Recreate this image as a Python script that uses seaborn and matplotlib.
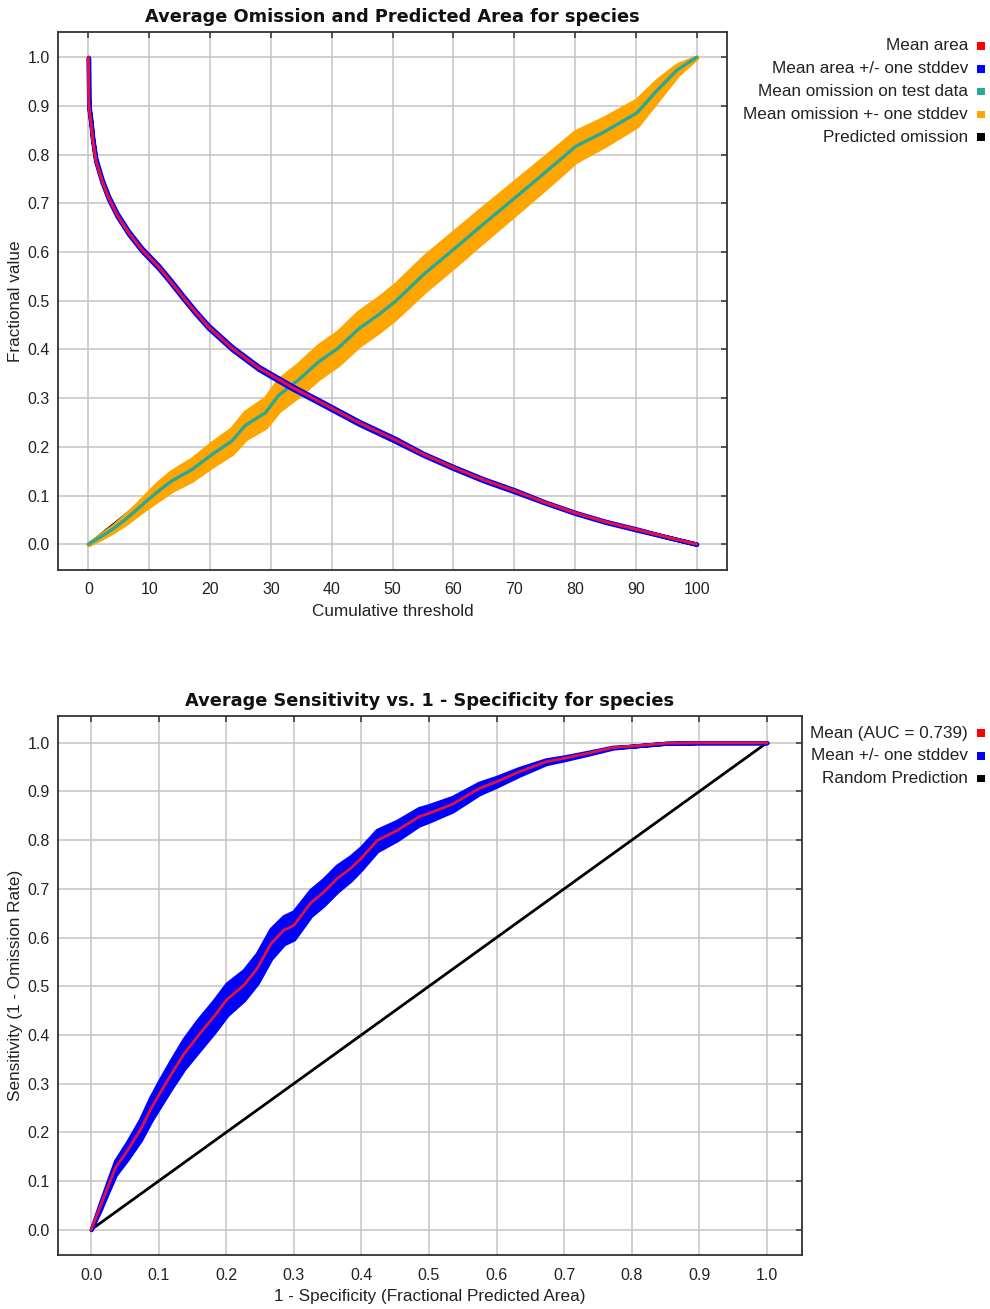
import matplotlib
matplotlib.use("Agg")
import matplotlib.pyplot as plt
import seaborn as sns
import numpy as np
import pandas as pd
from matplotlib.patches import Rectangle

# ---------------- data ----------------
# Top panel: omission and predicted area vs cumulative threshold
area_threshold = [0, 0.05, 0.15, 0.4, 0.7, 1.2, 2.2, 3.3, 4.7, 6.6, 8.8, 11.5, 13.5, 15.4,
                  17.5, 19.7, 23.6, 28.0, 33.4, 39.0, 44.4, 50.5, 55.0, 60.1, 65.0, 70.2,
                  75.0, 80.1, 85.0, 90.2, 95.0, 100]
mean_area = [1.0, 0.91, 0.892, 0.868, 0.832, 0.79, 0.748, 0.712, 0.677, 0.640, 0.605, 0.570,
             0.540, 0.510, 0.478, 0.447, 0.403, 0.362, 0.323, 0.286, 0.250, 0.214, 0.185,
             0.157, 0.132, 0.109, 0.086, 0.064, 0.046, 0.030, 0.015, 0.0]
area_std = [0.0, 0.003, 0.003, 0.003, 0.003, 0.003, 0.003, 0.003, 0.003, 0.003, 0.003, 0.003,
            0.003, 0.003, 0.003, 0.003, 0.003, 0.003, 0.003, 0.003, 0.003, 0.003, 0.002,
            0.002, 0.002, 0.002, 0.001, 0.001, 0.001, 0.001, 0.0, 0.0]

omission_threshold = [0, 2, 4, 6, 7.7, 9.5, 11.5, 13.7, 17.0, 20.3, 23.6, 25.8, 29.1, 31.3,
                      34.6, 37.8, 41.1, 44.4, 47.8, 50.5, 55.2, 60.1, 65.0, 70.2, 74.3, 77.6,
                      80.1, 84.7, 90.2, 93.5, 96.8, 100]
mean_omission = [0, 0.015, 0.031, 0.050, 0.068, 0.088, 0.109, 0.130, 0.153, 0.184, 0.212,
                 0.244, 0.270, 0.306, 0.338, 0.374, 0.403, 0.442, 0.472, 0.499, 0.555, 0.606,
                 0.658, 0.712, 0.755, 0.790, 0.817, 0.846, 0.886, 0.932, 0.974, 1.0]
omission_std = [0, 0.003, 0.005, 0.008, 0.010, 0.013, 0.017, 0.019, 0.021, 0.023, 0.025,
                0.027, 0.029, 0.031, 0.032, 0.033, 0.033, 0.034, 0.034, 0.034, 0.035, 0.035,
                0.034, 0.033, 0.032, 0.031, 0.030, 0.028, 0.026, 0.020, 0.010, 0.0]

predicted_threshold = [0, 100]
predicted_omission = [0.0, 1.0]

# Bottom panel: ROC
fpr = [0, 0.014, 0.024, 0.036, 0.054, 0.073, 0.088, 0.1, 0.118, 0.137, 0.157, 0.182, 0.201,
       0.226, 0.246, 0.266, 0.285, 0.3, 0.325, 0.344, 0.364, 0.384, 0.4, 0.423, 0.453, 0.485,
       0.5, 0.535, 0.574, 0.6, 0.633, 0.673, 0.7, 0.737, 0.772, 0.8, 0.851, 0.9, 1.0]
tpr = [0, 0.049, 0.085, 0.127, 0.163, 0.205, 0.247, 0.276, 0.318, 0.360, 0.396, 0.438, 0.473,
       0.502, 0.537, 0.587, 0.615, 0.625, 0.671, 0.693, 0.721, 0.742, 0.763, 0.799, 0.820, 0.848,
       0.855, 0.874, 0.906, 0.920, 0.940, 0.961, 0.968, 0.979, 0.990, 0.993, 0.999, 1.0, 1.0]
tpr_std = [0, 0.007, 0.010, 0.014, 0.017, 0.021, 0.024, 0.026, 0.028, 0.030, 0.032, 0.032, 0.032,
           0.030, 0.030, 0.030, 0.028, 0.028, 0.026, 0.026, 0.026, 0.024, 0.022, 0.021, 0.019, 0.017,
           0.016, 0.014, 0.011, 0.009, 0.007, 0.004, 0.003, 0.002, 0.001, 0.0, 0.0, 0.0, 0.0]
random_x = [0.0, 1.0]
random_y = [0.0, 1.0]

top_xticks = list(range(0, 101, 10))
frac_ticks = [round(0.1 * i, 1) for i in range(11)]

legend_top = ["Mean area", "Mean area +/- one stddev", "Mean omission on test data",
              "Mean omission +- one stddev", "Predicted omission"]
legend_bottom = ["Mean (AUC = 0.739)", "Mean +/- one stddev", "Random Prediction"]

# ---------------- style ----------------
RED = "#ff0000"
LINE_RED = "#e3123f"
BLUE = "#0000ff"
TEAL = "#2aa896"
ORANGE = "#ffa500"
BLACK = "#000000"
GRID = "#c4c4c4"
SPINE = "#333333"

sns.set_theme(style="white")
plt.rcParams["font.family"] = ["Liberation Sans", "DejaVu Sans"]

fig = plt.figure(figsize=(9.9, 13.09), dpi=100)
W, H = 990.0, 1309.0
ax1 = fig.add_axes([58 / W, 1 - 570 / H, 669 / W, 538 / H])
ax2 = fig.add_axes([58 / W, 1 - 1255 / H, 744 / W, 539 / H])


def style_axes(ax, xticks, xfmt):
    ax.set_facecolor("white")
    ax.set_xticks(xticks)
    ax.set_yticks(frac_ticks)
    ax.set_xticklabels([xfmt(v) for v in xticks])
    ax.set_yticklabels([f"{v:.1f}" for v in frac_ticks])
    ax.grid(True, color=GRID, linewidth=1.1)
    ax.set_axisbelow(True)
    for s in ax.spines.values():
        s.set_visible(True)
        s.set_color(SPINE)
        s.set_linewidth(1.3)
    ax.tick_params(axis="both", direction="in", length=4, width=1.1, color=SPINE,
                   top=True, right=True, labelsize=11.5, labelcolor="#222222")
    ax.tick_params(axis="x", pad=9)
    ax.tick_params(axis="y", pad=6)


# ---------- top panel ----------
d_pred = pd.DataFrame({"x": predicted_threshold, "y": predicted_omission})
sns.lineplot(data=d_pred, x="x", y="y", ax=ax1, color=BLACK, linewidth=1.6, zorder=2)

om_x = np.array(omission_threshold)
om_y = np.array(mean_omission)
om_s = np.array(omission_std)
ax1.fill_between(om_x, om_y - om_s, om_y + om_s, color=ORANGE, edgecolor=ORANGE,
                 linewidth=3.5, zorder=3)
d_om = pd.DataFrame({"x": omission_threshold, "y": mean_omission})
sns.lineplot(data=d_om, x="x", y="y", ax=ax1, color=TEAL, linewidth=2.4, zorder=4)

ar_x = np.array(area_threshold)
ar_y = np.array(mean_area)
ar_s = np.array(area_std)
ax1.fill_between(ar_x, ar_y - ar_s, ar_y + ar_s, color=BLUE, edgecolor=BLUE,
                 linewidth=3.2, zorder=5)
d_ar = pd.DataFrame({"x": area_threshold, "y": mean_area})
sns.lineplot(data=d_ar, x="x", y="y", ax=ax1, color=LINE_RED, linewidth=2.2, zorder=6)

ax1.set_xlim(-5, 105)
ax1.set_ylim(-0.053, 1.052)
style_axes(ax1, top_xticks, lambda v: f"{v:d}")
ax1.set_xlabel("Cumulative threshold", fontsize=12.3, labelpad=5, color="#222222")
ax1.set_ylabel("Fractional value", fontsize=12.3, labelpad=3, color="#222222")
ax1.set_title("Average Omission and Predicted Area for species", fontsize=12.8,
              fontweight="bold", family="DejaVu Sans", pad=7, color="#111111")

# ---------- bottom panel ----------
d_rand = pd.DataFrame({"x": random_x, "y": random_y})
sns.lineplot(data=d_rand, x="x", y="y", ax=ax2, color=BLACK, linewidth=2.0, zorder=2)

r_x = np.array(fpr)
r_y = np.array(tpr)
r_s = np.array(tpr_std)
ax2.fill_between(r_x, r_y - r_s, r_y + r_s, color=BLUE, edgecolor=BLUE,
                 linewidth=3.0, zorder=3)
d_roc = pd.DataFrame({"x": fpr, "y": tpr})
sns.lineplot(data=d_roc, x="x", y="y", ax=ax2, color=LINE_RED, linewidth=2.0,
             zorder=4, sort=False)

ax2.set_xlim(-0.049, 1.052)
ax2.set_ylim(-0.052, 1.055)
style_axes(ax2, frac_ticks, lambda v: f"{v:.1f}")
ax2.set_xlabel("1 - Specificity (Fractional Predicted Area)", fontsize=12.3, labelpad=5,
               color="#222222")
ax2.set_ylabel("Sensitivity (1 - Omission Rate)", fontsize=12.3, labelpad=3, color="#222222")
ax2.set_title("Average Sensitivity vs. 1 - Specificity for species", fontsize=12.8,
              fontweight="bold", family="DejaVu Sans", pad=7, color="#111111")


# ---------- legends (right side, text then square) ----------
def draw_legend(labels, colors, y_px_start, step_px):
    for i, (lab, col) in enumerate(zip(labels, colors)):
        yc = y_px_start + i * step_px
        fig.text(968 / W, 1 - yc / H, lab, ha="right", va="center", fontsize=12.3,
                 color="#222222")
        sq = 7.5
        fig.add_artist(Rectangle(((981 - sq / 2) / W, 1 - (yc + sq / 2) / H), sq / W, sq / H,
                                 transform=fig.transFigure, facecolor=col, edgecolor="none"))


draw_legend(legend_top, [RED, BLUE, TEAL, ORANGE, BLACK], 46, 22.8)
draw_legend(legend_bottom, [RED, BLUE, BLACK], 733, 22.8)

fig.savefig("out.png", dpi=100, facecolor="white")
